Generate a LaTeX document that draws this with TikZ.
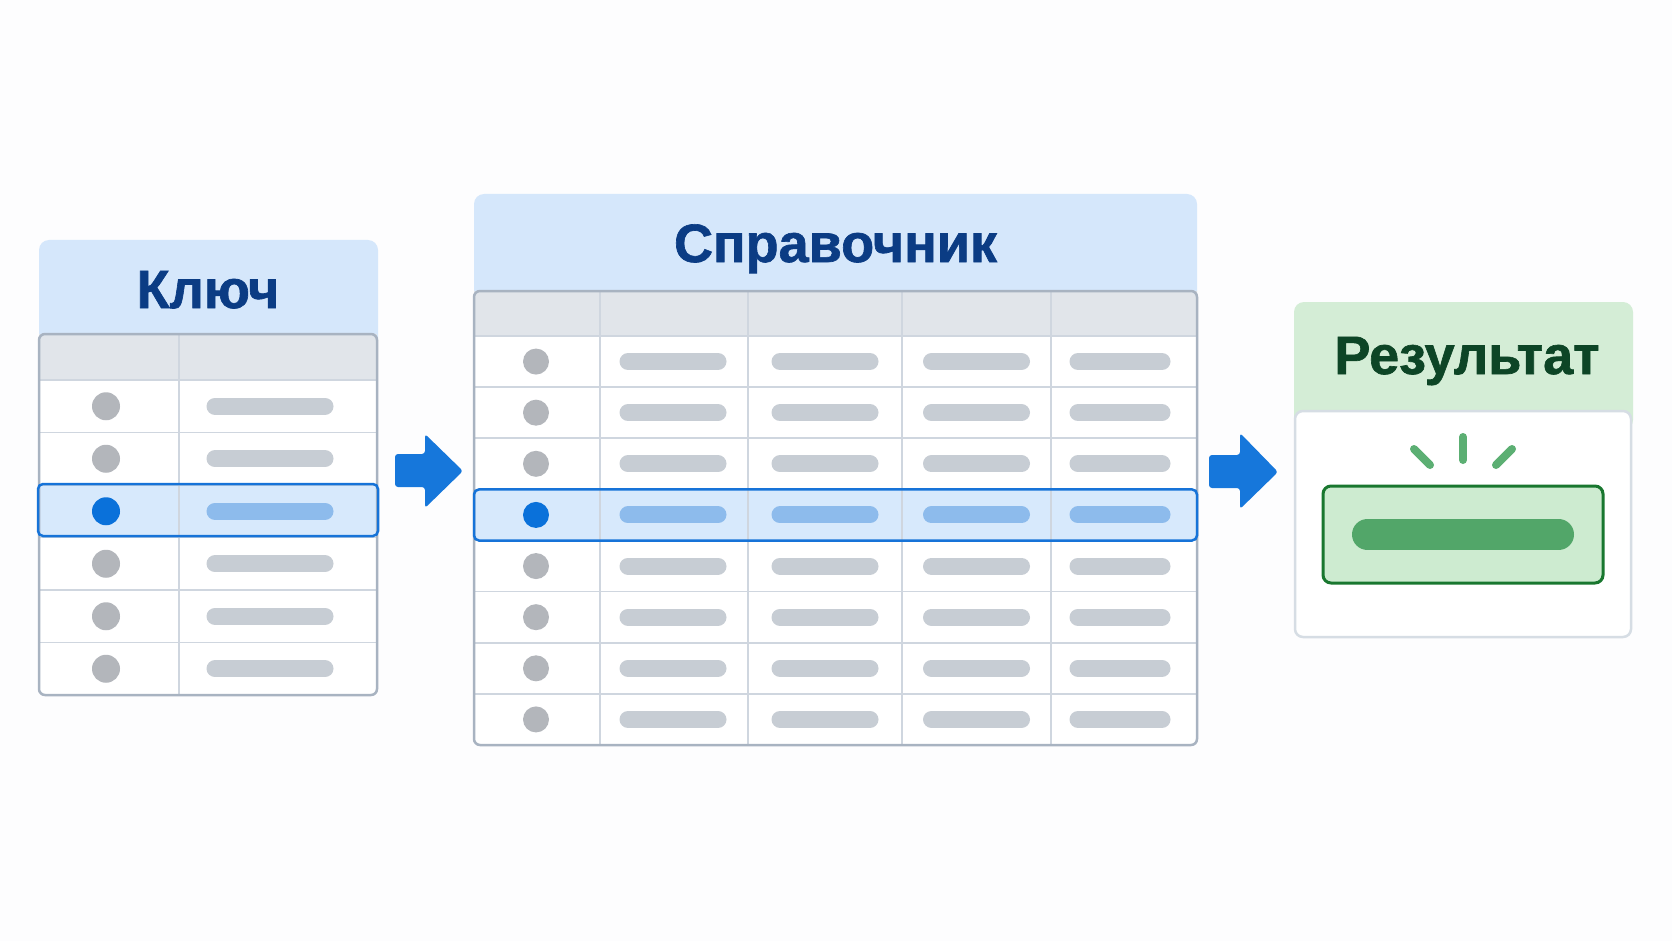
\documentclass[tikz,border=0pt]{standalone}
\usepackage{fontspec}
\setmainfont{Liberation Sans}
\newfontfamily\titlefont[FakeBold=1.2]{Liberation Sans Bold}
\usetikzlibrary{calc}
\definecolor{bg}{HTML}{FDFDFE}
\definecolor{hdrblue}{HTML}{D5E7FB}
\definecolor{navy}{HTML}{0B3C84}
\definecolor{tborder}{HTML}{A8B3C1}
\definecolor{gridc}{HTML}{CFD6DF}
\definecolor{hdrrow}{HTML}{E1E5EA}
\definecolor{dotgray}{HTML}{B3B6BB}
\definecolor{bargray}{HTML}{C7CDD4}
\definecolor{hlfill}{HTML}{D7E9FC}
\definecolor{hlborder}{HTML}{1673D8}
\definecolor{dotblue}{HTML}{0A71DA}
\definecolor{barblue}{HTML}{8DBBEC}
\definecolor{arrowblue}{HTML}{1677DB}
\definecolor{hdrgreen}{HTML}{D4EDD6}
\definecolor{darkgreen}{HTML}{0D4526}
\definecolor{resborder}{HTML}{D6DDE4}
\definecolor{greenfill}{HTML}{CDEBD0}
\definecolor{greenborder}{HTML}{19772F}
\definecolor{greenbar}{HTML}{52A669}
\definecolor{raygreen}{HTML}{5CAF73}
\tikzset{
  titletext/.style={font=\titlefont\fontsize{54}{60}\selectfont, anchor=base, inner sep=0pt},
  gridline/.style={draw=gridc, line width=1.6},
  tableborder/.style={draw=tborder, line width=2.5, rounded corners=6},
  graybar/.style={draw=bargray, line width=17, line cap=round},
  bluebar/.style={draw=barblue, line width=17, line cap=round},
  hlrow/.style={draw=hlborder, line width=2.5, rounded corners=5},
  blockarrow/.style={fill=arrowblue, rounded corners=3},
  rayline/.style={draw=raygreen, line width=8, line cap=round}
}
\begin{document}
\begin{tikzpicture}[x=1pt,y=-1pt]
\fill[bg] (0,0) rectangle (1672,941);
\useasboundingbox (0,0) rectangle (1672,941);

% ===== Left panel: Ключ =====
\fill[hdrblue, rounded corners=10] (39,240) rectangle (378,350);
\node[titletext, text=navy] (tkey) at (208,308) {Ключ};
\fill[white, rounded corners=6] (39,334) rectangle (377,695);
\fill[hdrrow] (39,334) rectangle (377,380);
\fill[hlfill] (39,484) rectangle (377,536);
\foreach \yy in {380,432.5,485,537.5,590,642.5}
  \draw[gridline] (39,\yy) -- (377,\yy);
\draw[gridline] (179,334) -- (179,695);
\foreach \i in {0,...,5}{
  \pgfmathsetmacro\yc{380+52.5*\i+26.25}
  \ifnum\i=2
    \fill[dotblue] (106,\yc) circle (14);
    \draw[bluebar] (215,\yc) -- (325,\yc);
  \else
    \fill[dotgray] (106,\yc) circle (14);
    \draw[graybar] (215,\yc) -- (325,\yc);
  \fi
}
\draw[tableborder] (39,334) rectangle (377,695);
\draw[hlrow] (38,484) rectangle (378,536);

% ===== Arrow 1 =====
\fill[blockarrow] (395,454) -- (425,454) -- (425,434) -- (463,471) -- (425,508) -- (425,487) -- (395,487) -- cycle;

% ===== Middle panel: Справочник =====
\fill[hdrblue, rounded corners=10] (474,194) rectangle (1197,305);
\node[titletext, text=navy] (tref) at (835.5,262) {Справочник};
\fill[white, rounded corners=6] (474,291) rectangle (1197,745);
\fill[hdrrow] (474,291) rectangle (1197,336);
\fill[hlfill] (474,489.4) rectangle (1197,540.5);
\foreach \i in {0,...,7}{
  \pgfmathsetmacro\yy{336+51.125*\i}
  \draw[gridline] (474,\yy) -- (1197,\yy);
}
\foreach \xx in {600,748,902,1051}
  \draw[gridline] (\xx,291) -- (\xx,745);
\foreach \i in {0,...,7}{
  \pgfmathsetmacro\yc{336+51.125*\i+25.56}
  \ifnum\i=3
    \fill[dotblue] (536,\yc) circle (13);
    \foreach \cx/\hw in {673/45,825/45,976.5/45,1120/42}
      \draw[bluebar] (\cx-\hw,\yc) -- (\cx+\hw,\yc);
  \else
    \fill[dotgray] (536,\yc) circle (13);
    \foreach \cx/\hw in {673/45,825/45,976.5/45,1120/42}
      \draw[graybar] (\cx-\hw,\yc) -- (\cx+\hw,\yc);
  \fi
}
\draw[tableborder] (474,291) rectangle (1197,745);
\draw[hlrow] (474,489.4) rectangle (1197,540.5);

% ===== Arrow 2 =====
\fill[blockarrow] (1209,455) -- (1240,455) -- (1240,433) -- (1278,472) -- (1240,509) -- (1240,488) -- (1209,488) -- cycle;

% ===== Right panel: Результат =====
\fill[hdrgreen, rounded corners=10] (1294,302) rectangle (1633,430);
\node[titletext, text=darkgreen] (tres) at (1467,374) {Результат};
\filldraw[fill=white, draw=resborder, line width=2.5, rounded corners=8] (1295,411) rectangle (1631,637);
\filldraw[fill=greenfill, draw=greenborder, line width=3, rounded corners=8] (1323,486) rectangle (1603,583);
\draw[draw=greenbar, line width=31, line cap=round] (1367.5,534.5) -- (1558.5,534.5);
\draw[rayline] (1463,437) -- (1463,460);
\draw[rayline] (1414,449) -- (1430,465);
\draw[rayline] (1512,449) -- (1496,465);
\end{tikzpicture}
\end{document}
